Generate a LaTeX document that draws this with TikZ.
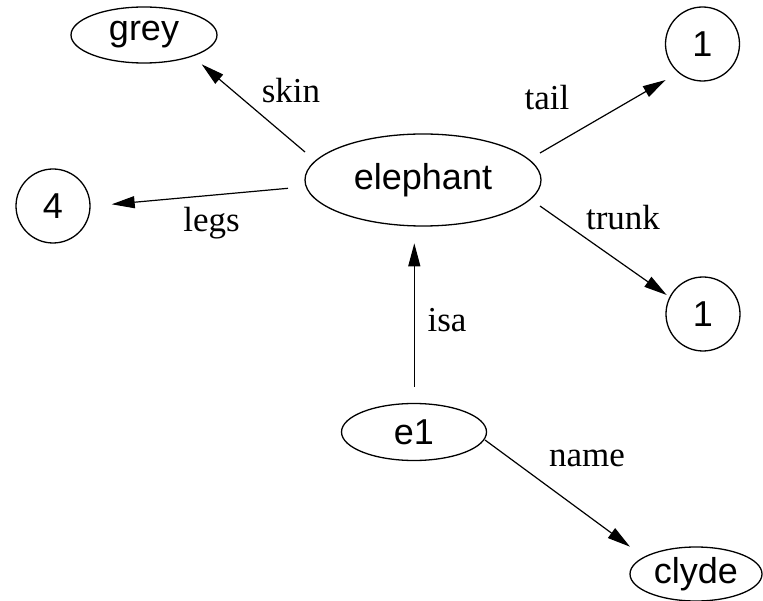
\documentclass[tikz,border=0pt]{standalone}
\usepackage{fontspec}
\setmainfont{Liberation Serif}
\setsansfont{Liberation Sans}
\usetikzlibrary{shapes.geometric,arrows.meta}
\begin{document}
\begin{tikzpicture}[x=1pt,y=-1pt,
  oval/.style={draw, ellipse, line width=1.3pt, inner sep=0pt, outer sep=0pt, font=\sffamily\fontsize{36}{36}\selectfont},
  ring/.style={draw, circle, line width=1.3pt, minimum size=74pt, inner sep=0pt, outer sep=0pt, font=\sffamily\fontsize{36}{36}\selectfont},
  link/.style={line width=1.2pt, -{Triangle[length=23pt,width=12pt]}},
  lbl/.style={font=\fontsize{35}{35}\selectfont, anchor=base, inner sep=0pt}]
\useasboundingbox (0,0) rectangle (763,601);
\node[oval, minimum width=146pt, minimum height=56pt] (grey) at (144,35) {grey};
\node[oval, minimum width=236pt, minimum height=92pt] (elephant) at (423,180) {elephant};
\node[ring] (four) at (53,206) {4};
\node[ring] (tailone) at (702.5,44) {1};
\node[ring] (trunkone) at (703,314) {1};
\node[oval, minimum width=145pt, minimum height=57pt] (e1) at (414,432) {e1};
\node[oval, minimum width=132pt, minimum height=54pt] (clyde) at (696,574) {clyde};

\draw[link] ([shift={(-118,-28)}]elephant.center) -- ([shift={(57.7,29.3)}]grey.center);
\draw[link] ([shift={(-135,8.3)}]elephant.center) -- ([shift={(58.7,-1.7)}]four.center);
\draw[link] ([shift={(117,-27)}]elephant.center) -- ([shift={(-36.8,36)}]tailone.center);
\draw[link] ([shift={(117,26)}]elephant.center) -- ([shift={(-36.3,-19)}]trunkone.center);
\draw[link] ([shift={(0.3,-45.3)}]e1.center) -- ([shift={(-8.7,63.3)}]elephant.center);
\draw[link] ([shift={(71,8)}]e1.center) -- ([shift={(-66,-27.3)}]clyde.center);

\node[lbl] (lskin) at (291,103) {skin};
\node[lbl] (llegs) at (211.5,231.5) {legs};
\node[lbl] (ltail) at (547,110) {tail};
\node[lbl] (ltrunk) at (623,230) {trunk};
\node[lbl] (lisa) at (447,332) {isa};
\node[lbl] (lname) at (587,466.7) {name};
\end{tikzpicture}
\end{document}
